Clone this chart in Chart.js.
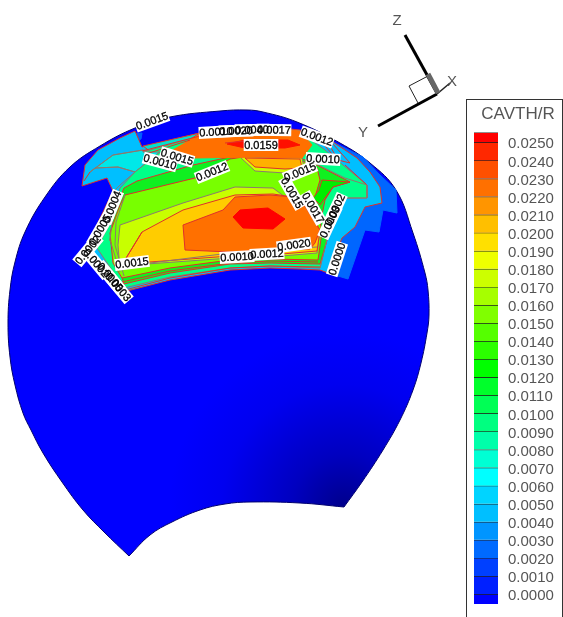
<!DOCTYPE html>
<html>
<head>
<meta charset="utf-8">
<title>CAVTH/R</title>
<script src="https://cdn.jsdelivr.net/npm/chart.js@4/dist/chart.umd.min.js"></script>
<style>
  html, body { margin: 0; padding: 0; background: #fff; overflow: hidden; }
  #wrap { position: relative; width: 563px; height: 617px; overflow: hidden; }
  #surface { position: absolute; left: 0; top: 0; }
  #key { position: absolute; left: 466px; top: 99px; width: 95px; height: 518px;
         border: 1px solid #333; border-bottom: 0; }
</style>
</head>
<body>
<div id="wrap">
  <canvas id="surface" width="563" height="617"></canvas>
  <div id="key"><canvas id="keyCanvas" width="95" height="523"></canvas></div>
</div>
<script>
// contour levels of the colour key, top to bottom
const levels = [0.025, 0.024, 0.023, 0.022, 0.021, 0.02, 0.019, 0.018, 0.017, 0.016, 0.015, 0.014, 0.013,
  0.012, 0.011, 0.01, 0.009, 0.008, 0.007, 0.006, 0.005, 0.004, 0.003, 0.002, 0.001, 0];
const bandColors = ['#ff0000', '#ff2800', '#ff5000', '#ff7000', '#ff9500', '#ffbf00', '#ffe000', '#eeff00',
  '#ccff00', '#a6ff00', '#80ff00', '#55ff00', '#2bff00', '#00ff00', '#00ff2b', '#00ff55', '#00ff80', '#00ffaa',
  '#00ffd4', '#00ffff', '#00d4ff', '#00bfff', '#0095ff', '#006aff', '#0040ff', '#0020ff', '#0000ff'];

// outlines, in reference picture units. the doubled points keep the two cusps sharp under the curve tension
const bodyOutline = [[129,556],[104,532],[83,510],[62,482],[43,453],[31,430],[23,413],[15,385],[10,357],[8,323],[10,290],
  [15,262],[25,232],[45,197],[70,167],[100,146],[135,128],[170,117],[220,111],[247,110],[263,112],[297,122],[340,143],
  [370,163],[396,190],[413,233],[425,273],[428,290],[429,315],[427,333],[421,363],[413,390],[400,420],[383,450],
  [362,482],[344,507],[344,507],[300,503],[250,502],[225,504],[200,510],[172,522],[150,535],[129,556]];
const stepBlue = [[333,142],[363,157],[380,175],[396,190],[397,213],[383,210],[379,232],[365,230],[348,279],[328,273]];
const capBlue = [[130,134],[142,133],[141,139],[130,144]];
const outerPatch = [[135,131],[142,147],[200,133],[230,128],[270,127],[300,130],[333,142],[357,158],[370,172],[380,187],
  [382,203],[365,207],[355,227],[342,238],[328,273],[320,270],[300,269],[270,268],[230,270],[170,280],[123,292],[85,250],
  [113,191],[107,178],[82,186],[85,165],[98,150],[120,138]];
const cyanPatch = [[90,172],[113,155],[143,150],[160,152],[135,172],[118,167],[95,168]];
const tealPatch = [[143,152],[200,136],[300,132],[325,150],[367,185],[367,198],[342,198],[330,227],[320,268],[270,266],
  [230,268],[170,277],[124,288],[97,248],[110,223],[117,200],[120,188],[135,172],[160,152]];
const greenPatch = [[124,188],[137,181],[193,165],[230,157],[300,158],[317,165],[350,182],[333,187],[325,200],[322,215],
  [330,230],[320,264],[270,263],[230,264],[170,273],[124,284],[110,240],[112,222],[119,200]];
const limePatch = [[125,195],[195,178],[230,159],[243,157],[300,160],[317,168],[320,180],[315,197],[320,222],[322,232],
  [318,260],[270,259],[230,260],[170,268],[122,278],[113,263],[110,233],[120,205]];
const darkGreenTip = [[322,180],[350,182],[333,187],[325,198],[320,205],[313,198],[319,190]];
const yellowGreenPatch = [[120,225],[183,203],[235,187],[273,188],[285,197],[320,230],[317,253],[270,257],[230,258],
  [147,264],[120,270],[118,245]];
const goldPatch = [[120,268],[142,232],[183,210],[235,195],[273,194],[293,197],[303,203],[320,230],[317,251],[270,255],
  [230,256],[150,262]];
const orangePatch = [[183,225],[223,210],[235,197],[270,195],[293,197],[303,203],[320,230],[315,243],[310,249],[270,250],
  [230,252],[185,250]];
const redPatch = [[233,217],[240,210],[268,208],[285,219],[273,229],[243,228]];
const upperYellowGreen = [[240,157],[302,158],[305,172],[285,173],[255,171]];
const upperGold = [[245,158],[300,159],[302,168],[285,169],[255,167]];
const upperOrange = [[173,150],[200,134],[230,129],[270,128],[300,131],[312,145],[302,158],[260,157],[193,158]];
const upperRed = [[227,144],[245,140],[288,140],[300,145],[285,148],[245,148]];
const topBand = [[143,146],[200,133],[173,150],[155,155]];

// red and grey contour lines that are not patch edges
const redLines = [
  [[142,151],[200,136]], [[146,154],[190,140]], [[125,290],[170,278],[230,268],[270,266],[320,267]],
  [[122,282],[170,271],[230,263],[270,261],[318,262]], [[332,143],[350,163],[338,160],[330,146]],
  [[325,146],[340,163]], [[90,172],[84,181]], [[142,232],[120,268]], [[345,165],[367,185]],
  [[300,131],[333,142]], [[225,143],[245,141]]
];
const greyLines = [
  [[90,172],[113,155],[143,150]], [[95,168],[118,167],[135,172],[120,185],[113,192]], [[119,192],[112,222],[110,240],[120,272]],
  [[125,195],[116,222],[115,245],[124,276]], [[150,263],[230,253],[317,247]], [[308,160],[345,178],[367,185],[367,198],[342,198],[330,227],[320,268]]
];

// coordinate triad
const axisZ = [[405,35],[437,93]];
const axisY = [[378,126],[437,94]];
const axisX = [[437,94],[450,83]];
const triadBar = [[428,74],[438,93]];
const triadBox = [[428,76],[409,86],[418,103]];

// contour labels: text, x, y, rotation in degrees
const contourLabels = [
  ['0.0015',152,121,-20], ['0.0010',216,132,-3], ['0.0020',236,131,-2], ['0.0040',252,130,-1], ['0.0017',274,130,1],
  ['0.0012',317,137,20], ['0.0010',323,159,3], ['0.0159',261,145,0], ['0.0015',177,157,17], ['0.0010',160,162,15],
  ['0.0012',212,172,-22], ['0.0015',300,172,-22], ['0.0015',292,193,60], ['0.0017',313,208,60], ['0.0002',335,210,-65],
  ['0.0003',330,222,-65], ['0.0020',294,245,-8], ['0.0012',267,254,-3], ['0.0010',237,257,-3], ['0.0000',337,259,-72],
  ['0.0015',132,263,-7], ['0.0004',112,207,-68], ['0.0005',100,230,-60], ['0.0002',88,250,-50], ['0.0002',96,263,50],
  ['0.0005',110,277,50], ['0.0003',118,287,50]
];
const axisLabels = [['Z',397,21], ['X',452,82], ['Y',363,133]];

const toPoints = pts => pts.map(p => ({ x: p[0], y: p[1] }));
const closed = pts => toPoints(pts.concat([pts[0]]));

function patch(pts, fillColor, lineColor, lineWidth, tension) {
  return {
    data: closed(pts),
    showLine: true,
    fill: 'shape',
    backgroundColor: fillColor,
    borderColor: lineColor,
    borderWidth: lineWidth === undefined ? 1 : lineWidth,
    pointRadius: 0,
    tension: tension || 0
  };
}

function line(pts, color, width) {
  return {
    data: toPoints(pts),
    showLine: true,
    fill: false,
    borderColor: color,
    borderWidth: width,
    pointRadius: 0,
    tension: 0
  };
}

function bodyShade(ctx) {
  const chart = ctx.chart;
  if (!chart.chartArea) return '#0000ff';
  const sx = chart.scales.x, sy = chart.scales.y;
  const cx = sx.getPixelForValue(344), cy = sy.getPixelForValue(507);
  const g = chart.ctx.createRadialGradient(cx, cy, 0, cx, cy, 175);
  g.addColorStop(0, '#00008c');
  g.addColorStop(0.3, '#0000c0');
  g.addColorStop(0.7, '#0000f0');
  g.addColorStop(1, '#0000ff');
  return g;
}

const contourRed = '#e0302a';
const contourGrey = '#8c7a6e';

// painted back to front
const layers = [
  patch(bodyOutline, bodyShade, '#00006e', 1, 0.4),
  patch(stepBlue, '#0066ff', '#0066ff'),
  patch(capBlue, '#0060ff', '#0060ff'),
  patch(outerPatch, '#00bfff', contourRed),
  patch(topBand, '#00e0d0', contourRed),
  patch(cyanPatch, '#00e8e8', contourGrey),
  patch(tealPatch, '#00ff88', contourGrey),
  patch(greenPatch, '#10f020', contourRed),
  patch(limePatch, '#78ff00', contourRed),
  patch(darkGreenTip, '#00ee00', contourRed),
  patch(yellowGreenPatch, '#c8ff00', contourGrey),
  patch(goldPatch, '#ffcc00', contourRed),
  patch(orangePatch, '#ff7000', contourRed),
  patch(redPatch, '#ff0000', '#ff0000'),
  patch(upperYellowGreen, '#ccff00', contourGrey),
  patch(upperGold, '#ffb000', contourRed),
  patch(upperOrange, '#ff7000', '#ff7000'),
  patch(upperRed, '#ff1000', '#ff1000')
].concat(
  redLines.map(l => line(l, contourRed, 1)),
  greyLines.map(l => line(l, contourGrey, 1)),
  [line(triadBox, '#222', 1), line(axisZ, '#000', 3), line(axisY, '#000', 3), line(axisX, '#222', 1.5), line(triadBar, '#666', 5)]
);

const labelPlugin = {
  id: 'contourText',
  afterDraw(chart) {
    const c = chart.ctx, sx = chart.scales.x, sy = chart.scales.y;
    c.save();
    c.textAlign = 'center';
    c.textBaseline = 'middle';
    c.font = '11px "Liberation Sans", Arial, sans-serif';
    // boxes first so that crowded labels still show through each other
    const place = (l, draw) => {
      c.save();
      c.translate(sx.getPixelForValue(l[1]), sy.getPixelForValue(l[2]));
      c.rotate(l[3] * Math.PI / 180);
      draw();
      c.restore();
    };
    c.fillStyle = '#fff';
    contourLabels.forEach(l => place(l, () => {
      const w = c.measureText(l[0]).width + 1;
      c.fillRect(-w / 2, -6, w, 12);
    }));
    c.fillStyle = '#000';
    c.strokeStyle = '#000';
    c.lineWidth = 0.3;
    contourLabels.forEach(l => place(l, () => {
      c.fillText(l[0], 0, 0.5);
      c.strokeText(l[0], 0, 0.5);
    }));
    c.font = '15px "Liberation Sans", Arial, sans-serif';
    c.fillStyle = '#555';
    axisLabels.forEach(l => c.fillText(l[0], sx.getPixelForValue(l[1]), sy.getPixelForValue(l[2])));
    c.restore();
  }
};

new Chart(document.getElementById('surface'), {
  type: 'scatter',
  data: { datasets: layers.map((d, i) => Object.assign(d, { order: layers.length - i })) },
  options: {
    responsive: false,
    animation: false,
    layout: { padding: 0 },
    scales: {
      x: { type: 'linear', display: false, min: 0, max: 563 },
      y: { type: 'linear', display: false, min: 0, max: 617, reverse: true }
    },
    plugins: { legend: { display: false }, tooltip: { enabled: false } }
  },
  plugins: [labelPlugin]
});

// colour key: one floating bar per band, ticks on a second axis sitting 2px lower
const keyTop = 0.02555, keyBottom = -0.00055;
const pxUnit = (keyTop - keyBottom) / 472;
const bandEdges = [keyTop].concat(levels, [keyBottom]);

new Chart(document.getElementById('keyCanvas'), {
  type: 'bar',
  data: {
    labels: ['CAVTH/R'],
    datasets: bandColors.map((color, i) => ({
      data: [[bandEdges[i + 1], bandEdges[i]]],
      backgroundColor: color,
      borderColor: '#222',
      borderWidth: { top: 1, bottom: 0, left: 0, right: 0 },
      borderSkipped: false,
      grouped: false,
      barPercentage: 1,
      categoryPercentage: 1,
      yAxisID: 'bands'
    }))
  },
  options: {
    responsive: false,
    animation: false,
    layout: { padding: { left: 7, right: 0, top: 0, bottom: 7 } },
    scales: {
      x: { display: false },
      bands: { display: false, position: 'left', min: keyBottom, max: keyTop },
      tickAxis: {
        position: 'right',
        min: keyBottom + 2 * pxUnit,
        max: keyTop + 2 * pxUnit,
        border: { display: false },
        grid: { display: false, drawTicks: false },
        afterBuildTicks: s => { s.ticks = levels.map(v => ({ value: v })); },
        afterFit: s => { s.width = 64; },
        ticks: {
          autoSkip: false,
          padding: 10,
          color: '#555',
          font: { family: '"Liberation Sans", Arial, sans-serif', size: 15 },
          callback: v => v.toFixed(4)
        }
      }
    },
    plugins: {
      legend: { display: false },
      tooltip: { enabled: false },
      title: {
        display: true,
        text: 'CAVTH/R',
        color: '#555',
        font: { family: '"Liberation Sans", Arial, sans-serif', size: 17, weight: 'normal' },
        padding: { top: 4, bottom: 8 }
      }
    }
  }
});
</script>
</body>
</html>
